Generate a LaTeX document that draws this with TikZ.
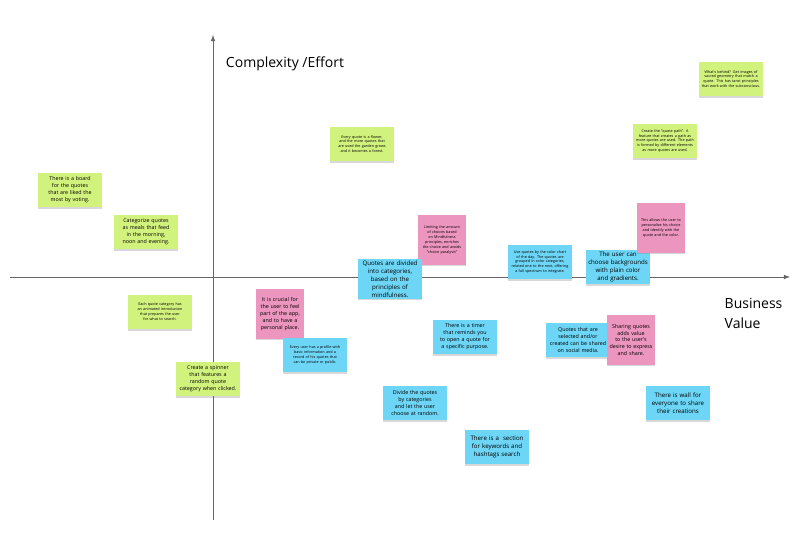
\documentclass[tikz,border=0pt]{standalone}
\usepackage{fontspec}
\setmainfont{Open Sans}
\usetikzlibrary{shadows}
\lefthyphenmin=64
\definecolor{stickygreen}{HTML}{D2F27E}
\definecolor{stickypink}{HTML}{EC95BE}
\definecolor{stickyblue}{HTML}{6DD6F6}
\tikzset{
  note/.style={inner sep=1pt,align=center,minimum width=47.5pt,minimum height=26pt,text width=45pt,
    drop shadow={opacity=0.3,shadow xshift=0pt,shadow yshift=-1.2pt}},
  sq/.style={note,minimum width=36.5pt,minimum height=37pt,text width=34pt},
  gnote/.style={note,fill=stickygreen},
  bnote/.style={note,fill=stickyblue},
  pnote/.style={sq,fill=stickypink},
  mid/.style={font=\fontsize{4}{5.2}\selectfont},
  big/.style={font=\fontsize{4.6}{6}\selectfont},
  tiny/.style={font=\fontsize{2.8}{3.7}\selectfont},
}
\begin{document}
\begin{tikzpicture}[x=0.75pt,y=-0.75pt]
\useasboundingbox (0,0) rectangle (802,542);
\fill[white] (0,0) rectangle (802,542);
% axes
\coordinate (ytop) at (213,35);
\coordinate (ybot) at (213,520);
\coordinate (xl) at (10,277);
\coordinate (xr) at (790,277);
\draw[gray!80!black,line width=0.6pt,-latex] (ybot) -- (ytop);
\draw[gray!80!black,line width=0.6pt,-latex] (xl) -- (xr);
\node[font=\fontsize{10.5}{12}\selectfont] (effort) at (285,64) {Complexity /Effort};
\node[font=\fontsize{10.5}{15}\selectfont,align=left,anchor=west] (value) at (720,313) {Business\\Value};
% top left
\node[gnote,mid] (board) at (70,190) {There is a board for the quotes that are liked the most by voting.};
\node[gnote,mid] (meals) at (146,232) {Categorize quotes as meals that feed in the morning, noon and evening.};
\node[gnote,tiny] (flower) at (362,144) {Every quote is a flower, and the more quotes that are used the garden grows and it becomes a forest.};
% bottom left
\node[gnote,tiny] (intro) at (160,312) {Each quote category has an animated introduction that prepares the user for what to search.};
\node[gnote,mid] (spinner) at (208,379) {Create a spinner that features a random quote category when clicked.};
% right side
\node[pnote,mid] (crucial) at (280,314) {It is crucial for the user to feel part of the app, and to have a personal place.};
\node[bnote,tiny] (profile) at (315,355) {Every user has a profile with basic information and a record of his quotes that can be private or public.};
\node[pnote,tiny,text width=32pt] (limit) at (442,240) {Limiting the amount of choices based on Mindfulness principles, enriches the choice and avoids "choice paralysis"};
\node[bnote,big] (divided) at (390,279) {Quotes are divided into categories, based on the principles of mindfulness.};
\node[bnote,mid] (timer) at (465,337) {There is a timer that reminds you to open a quote for a specific purpose.};
\node[bnote,tiny] (chart) at (540,262) {Use quotes by the color chart of the day. The quotes are grouped in color categories, related one to the next, offering a full spectrum to integrate.};
\node[bnote,big] (bgs) at (618,267) {The user can choose backgrounds with plain color and gradients.};
\node[pnote,tiny,text width=33pt] (personal) at (661,228) {This allows the user to personalize his choice and identify with the quote and the color.};
\node[gnote,tiny] (path) at (665,141) {Create the "quote path". A feature that creates a path as more quotes are used. The path is formed by different elements as more quotes are used.};
\node[gnote,tiny] (behind) at (731,79) {What's behind? Get images of sacred geometry that match a quote. This has tarot principles that work with the subconscious.};
\node[bnote,mid] (social) at (578,340) {Quotes that are selected and/or created can be shared on social media.};
\node[pnote,mid] (sharing) at (631,340) {Sharing quotes adds value to the user's desire to express and share.};
\node[bnote,big] (wall) at (678,403) {There is wall for everyone to share their creations};
\node[bnote,mid] (random) at (415,403) {Divide the quotes by categories and let the user choose at random.};
\node[bnote,big] (search) at (497,447) {There is a\ \ section for keywords and hashtags search};
\end{tikzpicture}
\end{document}
